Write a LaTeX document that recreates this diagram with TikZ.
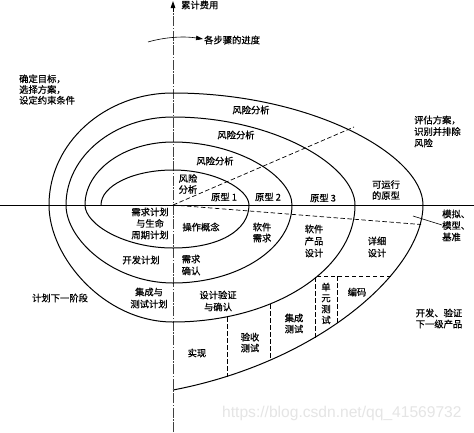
\documentclass[tikz,border=0pt]{standalone}
\usepackage{fontspec}
\newfontfamily\cjk[FakeBold=0.6]{Noto Sans CJK SC}
\newfontfamily\wmfont{Liberation Sans}
\usetikzlibrary{arrows.meta}
\begin{document}
\begin{tikzpicture}[x=1pt,y=-1pt,
  lbl/.style={font=\cjk\fontsize{9.3}{11.5}\selectfont, inner sep=0pt, align=center},
  lbll/.style={font=\cjk\fontsize{9.3}{11.5}\selectfont, inner sep=0pt, align=left},
  curve/.style={line width=1pt},
  dsh/.style={line width=0.7pt, dash pattern=on 4.5pt off 2.5pt},
  axis/.style={line width=0.8pt},
  vaxis/.style={line width=0.6pt, black!75, dash pattern=on 10pt off 1.5pt on 1.5pt off 1.5pt},
  tip/.style={-{Triangle[width=4.5pt,length=7pt]}},
]
\useasboundingbox (0,0) rectangle (474,432);
\fill[white] (0,0) rectangle (474,432);

% watermark
\node[anchor=west, inner sep=0pt, text=black!10, font=\wmfont\fontsize{15.6}{16}\selectfont] (wm) at (222,413) {https://blog.csdn.net/qq\_41569732};

% axes
\coordinate (vbot) at (173,432);
\coordinate (vtop) at (173,1);
\draw[vaxis] (vbot) -- (173,10);
\draw[axis, tip] (173,12) -- (vtop);
\coordinate (hl) at (0,205);
\coordinate (hr) at (474,205);
\draw[axis] (hl) -- (hr);

% progress arrow
\coordinate (pa) at (148,42);
\coordinate (pb) at (203,39);
\draw[line width=0.6pt, tip] (pa) .. controls (165,37) and (184,36) .. (pb);

% spiral
\draw[curve] (101,205) .. controls (101,185.7) and (133.3,170) .. (173,170)
 .. controls (215,170) and (249,189.3) .. (249,205)
 .. controls (249,230.8) and (218.6,248) .. (173,248)
 .. controls (124.4,248) and (85,224.3) .. (85,205)
 .. controls (85,170.2) and (124.4,142) .. (173,142)
 .. controls (238.7,142) and (292,176.8) .. (292,205)
 .. controls (292,248) and (238.7,283) .. (173,283)
 .. controls (113.9,283) and (66,239.9) .. (66,205)
 .. controls (66,156.4) and (113.9,117) .. (173,117)
 .. controls (273.5,117) and (355,165.6) .. (355,205)
 .. controls (355,269.6) and (273.5,322) .. (173,322)
 .. controls (104.5,322) and (49,257.4) .. (49,205)
 .. controls (49,143.2) and (104.5,93) .. (173,93)
 .. controls (311,93) and (423,154.8) .. (423,205)
 .. controls (423,270) and (320,362) .. (173,390);

% dashed radial lines
\coordinate (o) at (173,205);
\coordinate (d1) at (354,127);
\coordinate (d2) at (421,224.5);
\draw[dsh] (o) -- (d1);
\draw[dsh] (o) -- (d2);

% dashed partitions in lower right
\draw[dsh] (227,317) -- (227,376.5);
\draw[dsh] (270,304) -- (270,359.5);
\draw[dsh] (391,276) -- (315,276) -- (315,337.5);
\draw[dsh] (337,276) -- (337,323.5);

% pointer for 模拟
\coordinate (pm1) at (413,216);
\coordinate (pm2) at (442,225);
\draw[line width=0.6pt] (pm1) -- (pm2);

% labels
\node[lbl, anchor=west] (cost) at (181,5) {累计费用};
\node[lbl, anchor=west] (prog) at (204,40) {各步骤的进度};
\node[lbll, anchor=west, font=\cjk\fontsize{9.3}{10.7}\selectfont] (goal) at (19,89.5) {确定目标，\\选择方案，\\设定约束条件};
\node[lbll, anchor=west] (eval) at (414,131.5) {评估方案，\\识别并排除\\风险};
\node[lbl] (r4) at (251,110) {风险分析};
\node[lbl] (r3) at (236,135) {风险分析};
\node[lbl] (r2) at (215,161) {风险分析};
\node[lbl, font=\cjk\fontsize{9.3}{11}\selectfont] (r1) at (188,184) {风险\\分析};
\node[lbl] (p1) at (224,197) {原型 1};
\node[lbl] (p2) at (268,197) {原型 2};
\node[lbl] (p3) at (323,198) {原型 3};
\node[lbl, font=\cjk\fontsize{9.3}{11}\selectfont] (p4) at (386,190) {可运行\\的原型};
\node[lbll, anchor=west] (sim) at (442,225.5) {模拟、\\模型、\\基准};
\node[lbl] (req) at (150,223.5) {需求计划\\与生命\\周期计划};
\node[lbl] (ops) at (201,227) {操作概念};
\node[lbl, font=\cjk\fontsize{9.3}{11}\selectfont] (swr) at (262,232.5) {软件\\需求};
\node[lbl, font=\cjk\fontsize{9.3}{12}\selectfont] (spd) at (314,241) {软件\\产品\\设计};
\node[lbl, font=\cjk\fontsize{9.3}{12}\selectfont] (dd) at (377,247) {详细\\设计};
\node[lbl] (dev) at (141,260) {开发计划};
\node[lbl, font=\cjk\fontsize{9.3}{12}\selectfont] (rv) at (191,265) {需求\\确认};
\node[lbl, font=\cjk\fontsize{9.3}{12}\selectfont] (itp) at (149,298) {集成与\\测试计划};
\node[lbl] (next) at (60,298) {计划下一阶段};
\node[lbl, font=\cjk\fontsize{9.3}{12}\selectfont] (dvv) at (218,301) {设计验证\\与确认};
\node[lbl] (impl) at (197,353) {实现};
\node[lbl, font=\cjk\fontsize{9.3}{11}\selectfont] (acc) at (250,342.5) {验收\\测试};
\node[lbl, font=\cjk\fontsize{9.3}{11}\selectfont] (it) at (294,323.5) {集成\\测试};
\node[lbl, font=\cjk\fontsize{9.3}{11}\selectfont] (ut) at (326,303.5) {单\\元\\测\\试};
\node[lbl] (code) at (357,292) {编码};
\node[lbl, font=\cjk\fontsize{9.3}{11}\selectfont] (devv) at (439,318.5) {开发、验证\\下一级产品};
\end{tikzpicture}
\end{document}
